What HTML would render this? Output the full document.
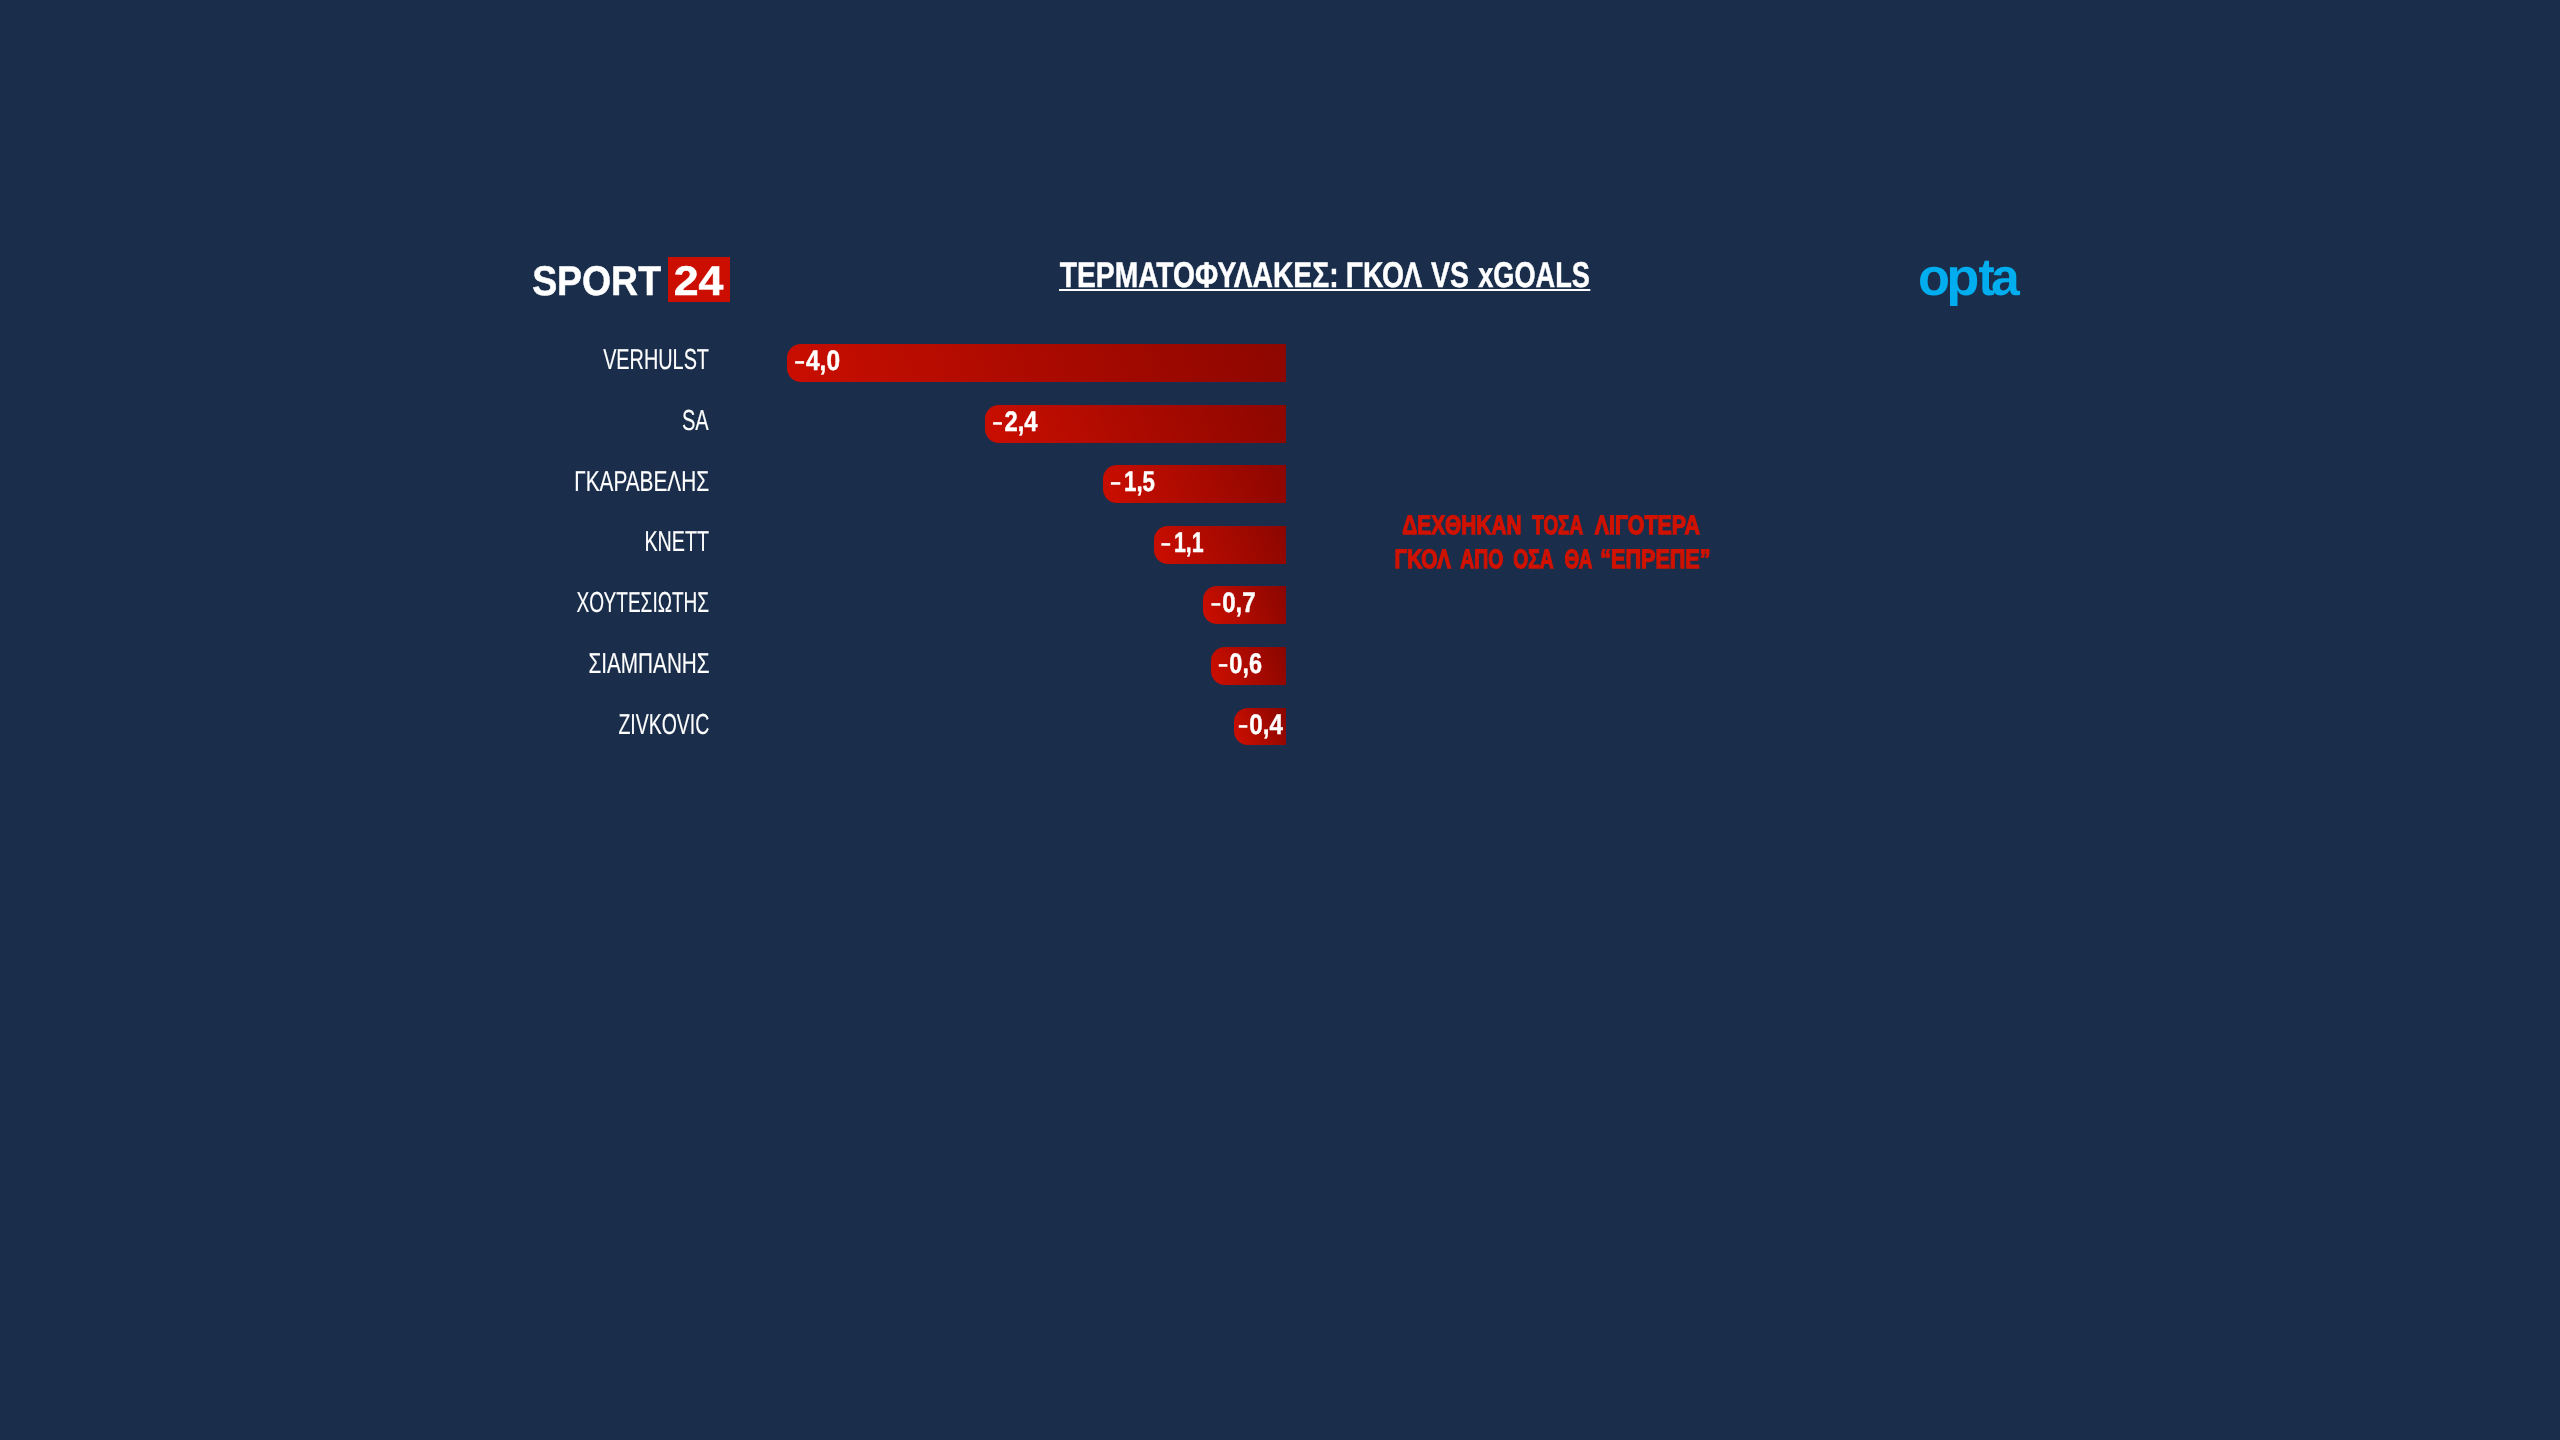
<!DOCTYPE html>
<html lang="el">
<head>
<meta charset="utf-8">
<title>Τερματοφύλακες: Γκολ vs xGoals</title>
<style>
html,body{margin:0;padding:0;background:#1a2e4c;}
body{width:2560px;height:1440px;overflow:hidden;position:relative;}
svg{position:absolute;left:0;top:0;display:block;will-change:transform;}
text{font-family:"Liberation Sans",sans-serif;white-space:pre;text-rendering:geometricPrecision;stroke-linejoin:miter;}
</style>
</head>
<body>
<svg width="2560" height="1440" viewBox="0 0 2560 1440">
<defs>
<linearGradient id="g0" gradientUnits="userSpaceOnUse" x1="787.0" y1="453.8" x2="1286.0" y2="272.2"><stop offset="0" stop-color="#cc0e00"/><stop offset="1" stop-color="#8a0600"/></linearGradient>
<linearGradient id="g1" gradientUnits="userSpaceOnUse" x1="985.0" y1="478.8" x2="1286.0" y2="369.2"><stop offset="0" stop-color="#cc0e00"/><stop offset="1" stop-color="#8a0600"/></linearGradient>
<linearGradient id="g2" gradientUnits="userSpaceOnUse" x1="1103.0" y1="517.3" x2="1286.0" y2="450.7"><stop offset="0" stop-color="#cc0e00"/><stop offset="1" stop-color="#8a0600"/></linearGradient>
<linearGradient id="g3" gradientUnits="userSpaceOnUse" x1="1154.0" y1="569.0" x2="1286.0" y2="521.0"><stop offset="0" stop-color="#cc0e00"/><stop offset="1" stop-color="#8a0600"/></linearGradient>
<linearGradient id="g4" gradientUnits="userSpaceOnUse" x1="1203.0" y1="620.1" x2="1286.0" y2="589.9"><stop offset="0" stop-color="#cc0e00"/><stop offset="1" stop-color="#8a0600"/></linearGradient>
<linearGradient id="g5" gradientUnits="userSpaceOnUse" x1="1211.0" y1="679.6" x2="1286.0" y2="652.4"><stop offset="0" stop-color="#cc0e00"/><stop offset="1" stop-color="#8a0600"/></linearGradient>
<linearGradient id="g6" gradientUnits="userSpaceOnUse" x1="1234.0" y1="736.5" x2="1286.0" y2="717.5"><stop offset="0" stop-color="#cc0e00"/><stop offset="1" stop-color="#8a0600"/></linearGradient>
</defs>
<!-- SPORT24 logo -->
<g id="logo-sport24">
<text id="sport" y="294.75" font-size="41.43" font-weight="700" fill="#fff" stroke="#fff" stroke-width="0.50"><tspan id="sport_0" x="532.155" textLength="128.845" lengthAdjust="spacingAndGlyphs" y="294.75">SPORT</tspan></text>
<rect x="668" y="257" width="62" height="45" fill="#cc0e00"/>
<text id="n24" y="294.75" font-size="41.43" font-weight="700" fill="#fff" stroke="#fff" stroke-width="0.50"><tspan id="n24_0" x="673.781" textLength="49.712" lengthAdjust="spacingAndGlyphs" y="294.75">24</tspan></text>
</g>
<!-- title -->
<g id="title-block">
<text id="title" y="286.77" font-size="35.68" font-weight="700" fill="#fff" transform="scale(2.4,1)" stroke="#fff" stroke-width="0.45"><tspan id="title_0" x="441.549" textLength="116.196" lengthAdjust="spacingAndGlyphs" y="286.77">ΤΕΡΜΑΤΟΦΥΛΑΚΕΣ:</tspan> <tspan id="title_1" x="560.772" textLength="31.819" lengthAdjust="spacingAndGlyphs" y="286.77">ΓΚΟΛ</tspan> <tspan id="title_2" x="596.250" textLength="15.805" lengthAdjust="spacingAndGlyphs" y="286.77">VS</tspan> <tspan id="title_3" x="615.905" textLength="46.544" lengthAdjust="spacingAndGlyphs" y="286.77">xGOALS</tspan></text>
<rect x="1059" y="289" width="531.3" height="2" fill="#fff"/>
</g>
<!-- opta logo -->
<g id="logo-opta">
<text id="opta" y="294.85" font-size="52.43" font-weight="700" fill="#00aeef"><tspan id="opta_0" x="1918.005" textLength="31.967" lengthAdjust="spacingAndGlyphs" y="294.85">o</tspan><tspan id="opta_1" x="1946.338" textLength="33.134" lengthAdjust="spacingAndGlyphs" y="294.85">p</tspan><tspan id="opta_2" x="1978.474" textLength="16.273" lengthAdjust="spacingAndGlyphs" y="294.85">t</tspan><tspan id="opta_3" x="1990.923" textLength="28.755" lengthAdjust="spacingAndGlyphs" y="294.85">a</tspan></text>
</g>
<!-- chart rows -->
<g id="chart">
<g class="row"><text id="l0" y="368.93" font-size="28.85" font-weight="400" fill="#fff" transform="scale(2,1)" stroke="#fff" stroke-width="0.15"><tspan id="l0_0" x="301.565" textLength="52.934" lengthAdjust="spacingAndGlyphs" y="368.93">VERHULST</tspan></text><path d="M801.00 344.00H1286.00V382.00H801.00A14 14 0 0 1 787.00 368.00V358.00A14 14 0 0 1 801.00 344.00Z" fill="url(#g0)"/><text id="v0" y="369.77" font-size="28.42" font-weight="700" fill="#fff" transform="scale(1.6,1)" stroke="#fff" stroke-width="0.45"><tspan id="v0_0" x="496.069" textLength="7.338" lengthAdjust="spacingAndGlyphs" stroke="none" font-size="21.50" y="367.97">-</tspan><tspan id="v0_1" x="503.750" textLength="21.253" lengthAdjust="spacingAndGlyphs" y="369.77">4,0</tspan></text></g>
<g class="row"><text id="l1" y="429.93" font-size="28.85" font-weight="400" fill="#fff" transform="scale(2,1)" stroke="#fff" stroke-width="0.15"><tspan id="l1_0" x="340.970" textLength="13.390" lengthAdjust="spacingAndGlyphs" y="429.93">SA</tspan></text><path d="M999.00 405.00H1286.00V443.00H999.00A14 14 0 0 1 985.00 429.00V419.00A14 14 0 0 1 999.00 405.00Z" fill="url(#g1)"/><text id="v1" y="430.77" font-size="28.42" font-weight="700" fill="#fff" transform="scale(1.6,1)" stroke="#fff" stroke-width="0.45"><tspan id="v1_0" x="619.821" textLength="7.232" lengthAdjust="spacingAndGlyphs" stroke="none" font-size="21.50" y="428.97">-</tspan><tspan id="v1_1" x="627.795" textLength="20.661" lengthAdjust="spacingAndGlyphs" y="430.77">2,4</tspan></text></g>
<g class="row"><text id="l2" y="490.93" font-size="28.85" font-weight="400" fill="#fff" transform="scale(2,1)" stroke="#fff" stroke-width="0.15"><tspan id="l2_0" x="287.094" textLength="67.472" lengthAdjust="spacingAndGlyphs" y="490.93">ΓΚΑΡΑΒΕΛΗΣ</tspan></text><path d="M1117.00 465.00H1286.00V503.00H1117.00A14 14 0 0 1 1103.00 489.00V479.00A14 14 0 0 1 1117.00 465.00Z" fill="url(#g2)"/><text id="v2" y="490.77" font-size="28.42" font-weight="700" fill="#fff" transform="scale(1.6,1)" stroke="#fff" stroke-width="0.45"><tspan id="v2_0" x="693.401" textLength="7.653" lengthAdjust="spacingAndGlyphs" stroke="none" font-size="21.50" y="488.97">-</tspan><tspan id="v2_1" x="702.548" textLength="19.327" lengthAdjust="spacingAndGlyphs" y="490.77">1,5</tspan></text></g>
<g class="row"><text id="l3" y="550.92" font-size="28.85" font-weight="400" fill="#fff" transform="scale(2,1)" stroke="#fff" stroke-width="0.15"><tspan id="l3_0" x="322.189" textLength="32.311" lengthAdjust="spacingAndGlyphs" y="550.92">ΚΝΕΤΤ</tspan></text><path d="M1168.00 526.00H1286.00V564.00H1168.00A14 14 0 0 1 1154.00 550.00V540.00A14 14 0 0 1 1168.00 526.00Z" fill="url(#g3)"/><text id="v3" y="551.77" font-size="28.42" font-weight="700" fill="#fff" transform="scale(1.6,1)" stroke="#fff" stroke-width="0.45"><tspan id="v3_0" x="724.996" textLength="7.218" lengthAdjust="spacingAndGlyphs" stroke="none" font-size="21.50" y="549.97">-</tspan><tspan id="v3_1" x="733.717" textLength="18.581" lengthAdjust="spacingAndGlyphs" y="551.77">1,1</tspan></text></g>
<g class="row"><text id="l4" y="611.92" font-size="28.85" font-weight="400" fill="#fff" transform="scale(2,1)" stroke="#fff" stroke-width="0.15"><tspan id="l4_0" x="288.296" textLength="66.279" lengthAdjust="spacingAndGlyphs" y="611.92">ΧΟΥΤΕΣΙΩΤΗΣ</tspan></text><path d="M1217.00 586.00H1286.00V624.00H1217.00A14 14 0 0 1 1203.00 610.00V600.00A14 14 0 0 1 1217.00 586.00Z" fill="url(#g4)"/><text id="v4" y="611.77" font-size="28.42" font-weight="700" fill="#fff" transform="scale(1.6,1)" stroke="#fff" stroke-width="0.45"><tspan id="v4_0" x="756.273" textLength="7.375" lengthAdjust="spacingAndGlyphs" stroke="none" font-size="21.50" y="609.97">-</tspan><tspan id="v4_1" x="763.883" textLength="20.895" lengthAdjust="spacingAndGlyphs" y="611.77">0,7</tspan></text></g>
<g class="row"><text id="l5" y="672.92" font-size="28.85" font-weight="400" fill="#fff" transform="scale(2,1)" stroke="#fff" stroke-width="0.15"><tspan id="l5_0" x="294.209" textLength="60.614" lengthAdjust="spacingAndGlyphs" y="672.92">ΣΙΑΜΠΑΝΗΣ</tspan></text><path d="M1225.00 647.00H1286.00V685.00H1225.00A14 14 0 0 1 1211.00 671.00V661.00A14 14 0 0 1 1225.00 647.00Z" fill="url(#g5)"/><text id="v5" y="672.77" font-size="28.42" font-weight="700" fill="#fff" transform="scale(1.6,1)" stroke="#fff" stroke-width="0.45"><tspan id="v5_0" x="760.996" textLength="7.014" lengthAdjust="spacingAndGlyphs" stroke="none" font-size="21.50" y="670.97">-</tspan><tspan id="v5_1" x="768.352" textLength="20.398" lengthAdjust="spacingAndGlyphs" y="672.77">0,6</tspan></text></g>
<g class="row"><text id="l6" y="733.92" font-size="28.85" font-weight="400" fill="#fff" transform="scale(2,1)" stroke="#fff" stroke-width="0.15"><tspan id="l6_0" x="309.190" textLength="45.465" lengthAdjust="spacingAndGlyphs" y="733.92">ZIVKOVIC</tspan></text><path d="M1248.00 708.00H1286.00V745.00H1248.00A14 14 0 0 1 1234.00 731.00V722.00A14 14 0 0 1 1248.00 708.00Z" fill="url(#g6)"/><text id="v6" y="733.77" font-size="28.42" font-weight="700" fill="#fff" transform="scale(1.6,1)" stroke="#fff" stroke-width="0.45"><tspan id="v6_0" x="773.496" textLength="7.014" lengthAdjust="spacingAndGlyphs" stroke="none" font-size="21.50" y="731.97">-</tspan><tspan id="v6_1" x="780.820" textLength="21.008" lengthAdjust="spacingAndGlyphs" y="733.77">0,4</tspan></text></g>
</g>
<!-- note -->
<g id="note">
<text id="ra" y="534.15" font-size="26.60" font-weight="700" fill="#d01200" transform="scale(1.8,1)" stroke="#d01200" stroke-width="1.30"><tspan id="ra_0" x="779.077" textLength="66.199" lengthAdjust="spacingAndGlyphs" y="534.15">ΔΕΧΘΗΚΑΝ</tspan> <tspan id="ra_1" x="851.263" textLength="28.216" lengthAdjust="spacingAndGlyphs" y="534.15">ΤΟΣΑ</tspan> <tspan id="ra_2" x="885.961" textLength="58.408" lengthAdjust="spacingAndGlyphs" y="534.15">ΛΙΓΟΤΕΡΑ</tspan></text>
<text id="rb" y="568.15" font-size="26.60" font-weight="700" fill="#d01200" transform="scale(1.8,1)" stroke="#d01200" stroke-width="1.30"><tspan id="rb_0" x="774.782" textLength="31.242" lengthAdjust="spacingAndGlyphs" y="568.15">ΓΚΟΛ</tspan> <tspan id="rb_1" x="811.241" textLength="23.947" lengthAdjust="spacingAndGlyphs" y="568.15">ΑΠΟ</tspan> <tspan id="rb_2" x="840.645" textLength="22.468" lengthAdjust="spacingAndGlyphs" y="568.15">ΟΣΑ</tspan> <tspan id="rb_3" x="869.220" textLength="15.408" lengthAdjust="spacingAndGlyphs" y="568.15">ΘΑ</tspan> <tspan id="rb_4" x="889.029" textLength="61.283" lengthAdjust="spacingAndGlyphs" y="568.15">“ΕΠΡΕΠΕ”</tspan></text>
</g>
</svg>
</body>
</html>
